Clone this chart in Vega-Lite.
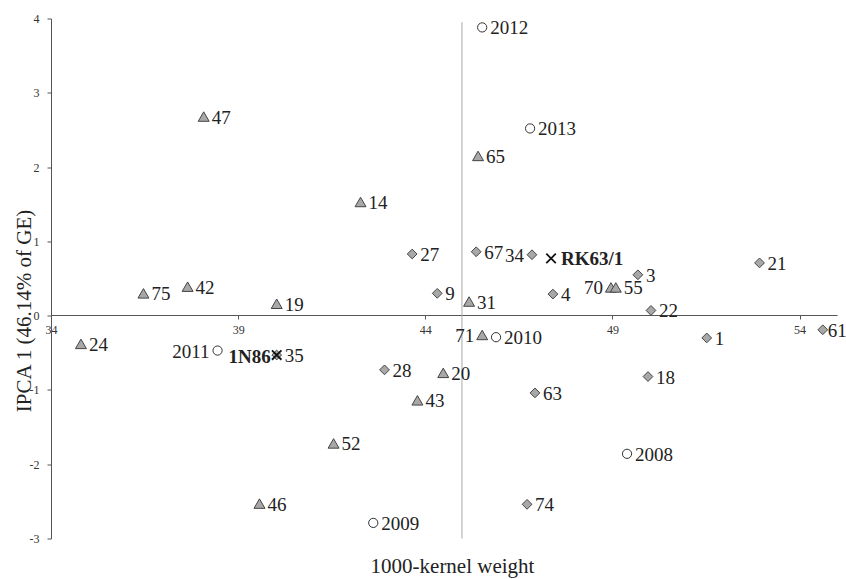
{
  "$schema": "https://vega.github.io/schema/vega-lite/v6.json",
  "width": 786,
  "height": 520,
  "autosize": {"type": "none"},
  "padding": {"left": 51, "top": 18.5, "right": 9, "bottom": 40.5},
  "background": "white",
  "config": {"view": {"stroke": null}, "font": "Liberation Serif"},
  "datasets": {
    "pts": [
      {"name": "2012", "type": "env", "x": 45.52, "y": 3.88},
      {"name": "2013", "type": "env", "x": 46.80, "y": 2.52},
      {"name": "2011", "type": "env", "x": 38.45, "y": -0.47},
      {"name": "2010", "type": "env", "x": 45.89, "y": -0.29},
      {"name": "2009", "type": "env", "x": 42.61, "y": -2.79},
      {"name": "2008", "type": "env", "x": 49.39, "y": -1.86},
      {"name": "47", "type": "tri", "x": 38.08, "y": 2.68},
      {"name": "14", "type": "tri", "x": 42.27, "y": 1.53},
      {"name": "65", "type": "tri", "x": 45.41, "y": 2.15},
      {"name": "75", "type": "tri", "x": 36.47, "y": 0.30},
      {"name": "42", "type": "tri", "x": 37.65, "y": 0.39},
      {"name": "19", "type": "tri", "x": 40.03, "y": 0.16},
      {"name": "31", "type": "tri", "x": 45.17, "y": 0.19},
      {"name": "24", "type": "tri", "x": 34.80, "y": -0.38},
      {"name": "71", "type": "tri", "x": 45.52, "y": -0.26},
      {"name": "70", "type": "tri", "x": 48.96, "y": 0.38},
      {"name": "55", "type": "tri", "x": 49.09, "y": 0.38},
      {"name": "20", "type": "tri", "x": 44.48, "y": -0.77},
      {"name": "43", "type": "tri", "x": 43.79, "y": -1.14},
      {"name": "52", "type": "tri", "x": 41.55, "y": -1.72},
      {"name": "46", "type": "tri", "x": 39.57, "y": -2.53},
      {"name": "27", "type": "dia", "x": 43.65, "y": 0.83},
      {"name": "67", "type": "dia", "x": 45.36, "y": 0.86},
      {"name": "34", "type": "dia", "x": 46.85, "y": 0.82},
      {"name": "9", "type": "dia", "x": 44.32, "y": 0.30},
      {"name": "4", "type": "dia", "x": 47.41, "y": 0.29},
      {"name": "3", "type": "dia", "x": 49.68, "y": 0.55},
      {"name": "22", "type": "dia", "x": 50.03, "y": 0.07},
      {"name": "21", "type": "dia", "x": 52.93, "y": 0.71},
      {"name": "1", "type": "dia", "x": 51.52, "y": -0.30},
      {"name": "61", "type": "dia", "x": 54.62, "y": -0.19},
      {"name": "18", "type": "dia", "x": 49.95, "y": -0.82},
      {"name": "63", "type": "dia", "x": 46.93, "y": -1.04},
      {"name": "74", "type": "dia", "x": 46.72, "y": -2.54},
      {"name": "28", "type": "dia", "x": 42.91, "y": -0.73},
      {"name": "35", "type": "dia", "x": 40.03, "y": -0.53},
      {"name": "RK63/1", "type": "check", "x": 47.36, "y": 0.77},
      {"name": "1N86", "type": "check", "x": 40.03, "y": -0.53}
    ],
    "mean": [{"x": 44.98, "y": -3, "y2": 3.95}]
  },
  "data": {"name": "pts"},
  "encoding": {
    "x": {
      "field": "x", "type": "quantitative",
      "scale": {"domain": [34, 55], "nice": false, "zero": false},
      "axis": {
        "orient": "bottom", "offset": -223.5, "values": [34, 39, 44, 49, 54],
        "grid": false, "tickSize": 4, "labelFontSize": 12, "labelFont": "Liberation Serif",
        "labelPadding": 5, "labelColor": "#333", "domainColor": "#555", "tickColor": "#555",
        "labelFlush": false,
        "title": "1000-kernel weight", "titleFont": "Liberation Serif", "titleFontSize": 21,
        "titleFontWeight": "normal", "titleColor": "#222", "titleX": 401, "titleY": 257,
        "titleAlign": "center", "titleBaseline": "alphabetic"
      }
    },
    "y": {
      "field": "y", "type": "quantitative",
      "scale": {"domain": [-3, 4], "nice": false, "zero": false},
      "axis": {
        "values": [-3, -2, -1, 0, 1, 2, 3, 4],
        "labelExpr": "replace(datum.label, '\u2212', '-')",
        "grid": false, "tickSize": 4, "labelFontSize": 12, "labelFont": "Liberation Serif",
        "labelPadding": 8, "labelColor": "#333", "domainColor": "#555", "tickColor": "#555",
        "labelFlush": false,
        "title": "IPCA 1 (46.14% of GE)", "titleFont": "Liberation Serif", "titleFontSize": 21,
        "titleFontWeight": "normal", "titleColor": "#222", "titleX": -21, "titleY": 292,
        "titleAngle": -90, "titleAlign": "center", "titleBaseline": "alphabetic"
      }
    }
  },
  "layer": [
    {
      "data": {"name": "mean"},
      "mark": {"type": "rule", "color": "#aaaaaa", "strokeWidth": 1},
      "encoding": {"y2": {"field": "y2"}}
    },
    {
      "transform": [{"filter": "datum.type === 'env'"}],
      "mark": {"type": "point", "shape": "circle", "filled": true, "fill": "white", "stroke": "#333", "strokeWidth": 1, "size": 85, "opacity": 1}
    },
    {
      "transform": [{"filter": "datum.type === 'tri'"}],
      "mark": {"type": "point", "shape": "triangle-up", "filled": true, "fill": "#a8a8a8", "stroke": "#444", "strokeWidth": 1, "size": 120, "opacity": 1}
    },
    {
      "transform": [{"filter": "datum.type === 'dia'"}],
      "mark": {"type": "point", "shape": "diamond", "filled": true, "fill": "#a8a8a8", "stroke": "#444", "strokeWidth": 1, "size": 95, "opacity": 1}
    },
    {
      "transform": [{"filter": "datum.type === 'check'"}],
      "mark": {"type": "point", "shape": "M-1,-1L1,1M1,-1L-1,1", "filled": false, "stroke": "#111", "strokeWidth": 1.8, "size": 90, "opacity": 1}
    },
    {
      "transform": [{"filter": "datum.type !== 'check' && indexof(['71','70','34','2011','61'], datum.name) < 0"}],
      "mark": {"type": "text", "align": "left", "baseline": "middle", "dx": 8, "dy": 1, "fontSize": 19, "font": "Liberation Serif", "color": "#222"},
      "encoding": {"text": {"field": "name"}}
    },
    {
      "transform": [{"filter": "datum.name === '61'"}],
      "mark": {"type": "text", "align": "left", "baseline": "middle", "dx": 5, "dy": 1, "fontSize": 19, "font": "Liberation Serif", "color": "#222"},
      "encoding": {"text": {"field": "name"}}
    },
    {
      "transform": [{"filter": "indexof(['71','70','34','2011'], datum.name) >= 0"}],
      "mark": {"type": "text", "align": "right", "baseline": "middle", "dx": -8, "dy": 1, "fontSize": 19, "font": "Liberation Serif", "color": "#222"},
      "encoding": {"text": {"field": "name"}}
    },
    {
      "transform": [{"filter": "datum.name === 'RK63/1'"}],
      "mark": {"type": "text", "align": "left", "baseline": "middle", "dx": 10, "dy": 1, "fontSize": 19, "fontWeight": "bold", "font": "Liberation Serif", "color": "#222"},
      "encoding": {"text": {"field": "name"}}
    },
    {
      "transform": [{"filter": "datum.name === '1N86'"}],
      "mark": {"type": "text", "align": "right", "baseline": "middle", "dx": -6, "dy": 2, "fontSize": 19, "fontWeight": "bold", "font": "Liberation Serif", "color": "#222"},
      "encoding": {"text": {"field": "name"}}
    }
  ]
}
